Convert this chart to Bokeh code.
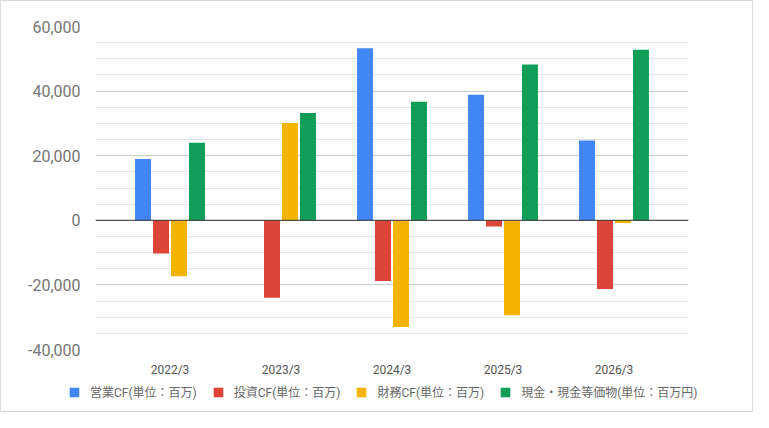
from bokeh.plotting import figure
from bokeh.layouts import column
from bokeh.models import (FactorRange, ColumnDataSource, Legend, LegendItem, Span, FixedTicker,
                          NumeralTickFormatter, Range1d)
from bokeh.transform import dodge
from bokeh.embed import file_html
from bokeh.resources import INLINE

years = ["2022/3", "2023/3", "2024/3", "2025/3", "2026/3"]
operating_cf = [19000, 0, 53300, 38900, 24700]
investing_cf = [-10300, -24000, -18800, -1900, -21300]
financing_cf = [-17300, 30100, -33000, -29400, -800]
cash_eq = [24000, 33200, 36700, 48200, 52800]
series_names = ["営業CF(単位：百万)", "投資CF(単位：百万)", "財務CF(単位：百万)", "現金・現金等価物(単位：百万円)"]
colors = ["#4285F4", "#DB4437", "#F4B400", "#0F9D58"]
y_ticks = [-40000, -20000, 0, 20000, 40000, 60000]

src = ColumnDataSource(dict(x=years, a=operating_cf, b=investing_cf, c=financing_cf, d=cash_eq))

FONT = "Roboto, 'Noto Sans CJK JP', sans-serif"

p = figure(x_range=FactorRange(*years, range_padding=0.0685), y_range=(-40000, 60000),
           width=751, height=378, output_backend="svg", toolbar_location=None,
           min_border_left=94, min_border_right=64, min_border_top=25, min_border_bottom=21)
p.outline_line_color = None

offsets = [-0.243, -0.081, 0.081, 0.243]
cols = ["a", "b", "c", "d"]
for col, off, c in zip(cols, offsets, colors):
    p.vbar(x=dodge("x", off, range=p.x_range), top=col, bottom=0, width=0.144, source=src,
           fill_color=c, line_color=None)

p.yaxis.ticker = FixedTicker(ticks=y_ticks, minor_ticks=list(range(-40000, 60001, 5000)))
p.yaxis.formatter = NumeralTickFormatter(format="0,0")
p.yaxis.major_label_text_font = FONT
p.yaxis.major_label_text_font_size = "16px"
p.yaxis.major_label_text_color = "#757575"
p.yaxis.major_label_standoff = 9
p.xaxis.major_label_text_font = FONT
p.xaxis.major_label_text_font_size = "12px"
p.xaxis.major_label_text_color = "#555555"
p.xaxis.major_label_standoff = 7
for ax in (p.xaxis[0], p.yaxis[0]):
    ax.axis_line_color = None
    ax.major_tick_line_color = None
    ax.minor_tick_line_color = None

p.xgrid.grid_line_color = None
p.ygrid.grid_line_color = "#cccccc"
p.ygrid.minor_grid_line_color = "#e6e6e6"

p.add_layout(Span(location=0, dimension="width", line_color="#333333", line_width=1))

# legend strip (its bars lie outside its visible range; only the legend shows)
pl = figure(width=751, height=32, output_backend="svg", toolbar_location=None,
            x_range=Range1d(0, 1), y_range=Range1d(0, 1), x_axis_type=None, y_axis_type=None,
            min_border_left=0, min_border_right=0, min_border_top=0, min_border_bottom=0)
pl.outline_line_color = None
pl.xgrid.grid_line_color = None
pl.ygrid.grid_line_color = None
if hasattr(pl, "frame_align"):
    pl.frame_align = False
    p.frame_align = False
legend_renderers = [pl.vbar(x=[50], top=[51], bottom=[50], width=0.1, fill_color=c, line_color=None)
                    for c in colors]

legend = Legend(items=[LegendItem(label=n, renderers=[r]) for n, r in zip(series_names, legend_renderers)],
                orientation="horizontal", location=(67, 11), padding=0, margin=0,
                spacing=15, glyph_width=12, glyph_height=12, label_standoff=10, label_height=12,
                label_text_font=FONT, label_text_font_size="12px", label_text_color="#666666",
                border_line_color=None, background_fill_alpha=0)
pl.add_layout(legend, "center")

layout = column(p, pl, spacing=0, styles={"border": "1px solid #d9d9d9"})

open("out.html", "w").write(file_html(layout, INLINE))
